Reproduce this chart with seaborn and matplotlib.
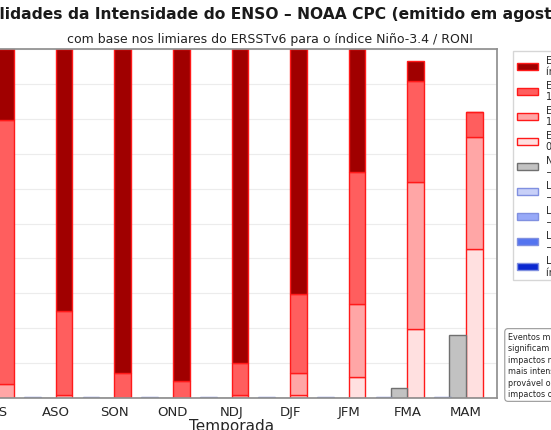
import matplotlib
matplotlib.use("Agg")
import matplotlib.pyplot as plt
import seaborn as sns
import numpy as np
from matplotlib.patches import Patch

sns.set_theme(style="white")
plt.rcParams['font.family'] = ['DejaVu Sans']

seasons = ["JAS", "ASO", "SON", "OND", "NDJ", "DJF", "JFM", "FMA", "MAM"]
el_weak = [0.0, 0.9, 0.0, 0.0, 0.0, 1.0, 6.1, 19.9, 42.8]
el_moderate = [4.0, 0.0, 0.0, 0.0, 1.0, 6.3, 20.9, 41.9, 32.1]
el_strong = [75.7, 24.0, 7.1, 4.9, 9.0, 22.4, 37.8, 29.1, 7.1]
el_vstrong = [20.3, 75.1, 92.9, 95.1, 90.0, 70.3, 35.2, 5.8, 0.0]
neutral = [0.0, 0.0, 0.0, 0.0, 0.0, 0.0, 0.0, 3.0, 18.0]
la_weak = [0.3, 0.3, 0.3, 0.3, 0.3, 0.3, 0.3, 0.3, 0.3]
la_moderate = [0, 0, 0, 0, 0, 0, 0, 0, 0]
la_strong = [0, 0, 0, 0, 0, 0, 0, 0, 0]
la_vstrong = [0, 0, 0, 0, 0, 0, 0, 0, 0]

labels = ["El Niño Muito Forte\níndice ≥ 2,0", "El Niño Forte\n1,5 a 2,0",
          "El Niño Moderado\n1,0 a 1,5", "El Niño Fraco\n0,5 a 1,0",
          "Neutro\n−0,5 a 0,5", "La Niña Fraca\n−0,5 a −1,0",
          "La Niña Moderada\n−1,0 a −1,5", "La Niña Forte\n−1,5 a −2,0",
          "La Niña Muito Forte\níndice ≤ −2,0"]
colors = ["#a00000", "#ff5e5e", "#ffa6a6", "#ffe0e0", "#c2c2c2",
          "#c8d0f8", "#97a9f8", "#5474f0", "#0a28d0"]
edges = ["#ff1a1a"] * 4 + ["#707070"] + ["#8090e0"] * 4

fig = plt.figure(figsize=(5.51, 4.31), dpi=100)
ax = fig.add_axes([-34 / 551, 32 / 431, 531 / 551, 349 / 431])
x = np.arange(len(seasons))
w = 0.285

bottom = np.zeros(len(seasons))
for vals, c, e in [(el_weak, colors[3], edges[3]), (el_moderate, colors[2], edges[2]),
                   (el_strong, colors[1], edges[1]), (el_vstrong, colors[0], edges[0])]:
    v = np.array(vals, float)
    ax.bar(x, v, width=w, bottom=bottom, align="edge", color=c, edgecolor=e, linewidth=1.0)
    bottom += v
ax.bar(x - w, neutral, width=w, align="edge", color=colors[4], edgecolor=edges[4], linewidth=1.0)
bottom = np.zeros(len(seasons))
for vals, c, e in [(la_weak, colors[5], edges[5]), (la_moderate, colors[6], edges[6]),
                   (la_strong, colors[7], edges[7]), (la_vstrong, colors[8], edges[8])]:
    v = np.array(vals, float)
    ax.bar(x - 2 * w + 0.03, v, width=w, bottom=bottom, align="edge", color=c, edgecolor=e, linewidth=0.8)
    bottom += v

ax.set_xlim(-0.53, 8.53)
ax.set_ylim(0, 100)
ax.set_xticks(x)
ax.set_xticklabels(seasons, fontsize=9.5)
ax.set_yticks(np.arange(0, 101, 10))
ax.set_yticklabels([])
ax.tick_params(axis="x", length=3, pad=2)
ax.yaxis.grid(True, color="#ececec", linewidth=0.8)
ax.set_axisbelow(True)
for s in ax.spines.values():
    s.set_color("#909090")
ax.set_xlabel("Temporada", fontsize=11, labelpad=0)

handles = [Patch(facecolor=c, edgecolor=e) for c, e in zip(colors, edges)]
fig.legend(handles, labels, loc="upper left", bbox_to_anchor=(513 / 551, 1 - 52 / 431),
           fontsize=7, frameon=True, handlelength=2.2, labelspacing=0.35,
           borderaxespad=0, edgecolor="#cccccc", fancybox=False)

fig.text(508 / 551, 1 - 366 / 431,
         "Eventos mais fortes\nsignificam maior chance de\nimpactos mais amplos e\nmais intensos, mas não é\nprovável ou garantido que os\nimpactos ocorram.",
         fontsize=5.8, va="center", ha="left", linespacing=1.35,
         bbox=dict(boxstyle="round,pad=0.4", facecolor="white", edgecolor="#999999", linewidth=0.8))

fig.text(270 / 551, 1 - 40 / 431,
         "com base nos limiares do ERSSTv6 para o índice Niño-3.4 / RONI",
         fontsize=9, ha="center", va="center", color="#222222")

title = "Probabilidades da Intensidade do ENSO – NOAA CPC (emitido em agosto de 2025)"
prefix = "Probabi"
tsize = 11.2
r = fig.canvas.get_renderer()
tmp = fig.text(0, 0, prefix, fontsize=tsize, fontweight="bold")
pw = tmp.get_window_extent(renderer=r).width
tmp.remove()
fig.text(-pw / 551, 1 - 14 / 431, title, fontsize=tsize, fontweight="bold",
         ha="left", va="center", color="#1a1a1a")

fig.savefig("out.png", dpi=100)
